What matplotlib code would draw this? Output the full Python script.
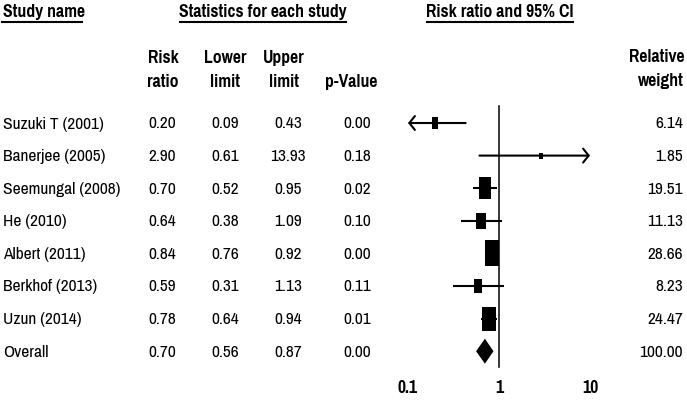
import matplotlib
matplotlib.use("Agg")
import matplotlib.pyplot as plt
import numpy as np
from matplotlib.path import Path
from matplotlib.markers import MarkerStyle

studies = ["Suzuki T (2001)", "Banerjee (2005)", "Seemungal (2008)", "He (2010)",
           "Albert (2011)", "Berkhof (2013)", "Uzun (2014)"]
rr = [0.20, 2.90, 0.70, 0.64, 0.84, 0.59, 0.78]
lower = [0.09, 0.61, 0.52, 0.38, 0.76, 0.31, 0.64]
upper = [0.43, 13.93, 0.95, 1.09, 0.92, 1.13, 0.94]
pval = [0.00, 0.18, 0.02, 0.10, 0.00, 0.11, 0.01]
weight = [6.14, 1.85, 19.51, 11.13, 28.66, 8.23, 24.47]
overall_name = "Overall"
overall_rr, overall_lo, overall_hi, overall_p, overall_w = 0.70, 0.56, 0.87, 0.00, 100.00
ticks = [0.1, 1, 10]

FONT = ["Pragati Narrow", "Archivo Narrow", "Roboto Condensed", "Liberation Sans", "DejaVu Sans"]
W, H = 687, 402
fig = plt.figure(figsize=(W / 100, H / 100), dpi=100)
ax = fig.add_axes([0, 0, 1, 1])
ax.set_xlim(0, W)
ax.set_ylim(H, 0)
ax.axis("off")

x0, x1 = 408, 590
ax2 = fig.add_axes([x0 / W, 0, (x1 - x0) / W, 1])
ax2.set_xscale("log")
ax2.set_xlim(ticks[0], ticks[-1])
ax2.set_ylim(H, 0)
ax2.axis("off")

row0, dy = 124, 32.6
rows = [row0 + i * dy for i in range(len(studies) + 1)]

hdr = dict(fontsize=13.8, fontweight="bold", family=FONT, va="center")
txt = dict(fontsize=13.6, family=FONT, va="center")

# headers
ax.text(3, 12, "Study name", ha="left", **hdr)
ax.plot([2, 82], [23, 23], color="black", lw=1.5)
ax.text(263, 12, "Statistics for each study", ha="center", **hdr)
ax.plot([180, 346], [23, 23], color="black", lw=1.5)
ax.text(500, 12, "Risk ratio and 95% CI", ha="center", **hdr)
ax.plot([427, 573], [23, 23], color="black", lw=1.5)

cols = [163, 225, 284, 351]
ax.text(cols[0], 58, "Risk", ha="center", **hdr)
ax.text(cols[0], 82, "ratio", ha="center", **hdr)
ax.text(cols[1], 58, "Lower", ha="center", **hdr)
ax.text(cols[1], 82, "limit", ha="center", **hdr)
ax.text(cols[2], 58, "Upper", ha="center", **hdr)
ax.text(cols[2], 82, "limit", ha="center", **hdr)
ax.text(cols[3], 82, "p-Value", ha="center", **hdr)
ax.text(684, 57, "Relative", ha="right", **hdr)
ax.text(684, 81, "weight", ha="right", **hdr)

dcols = [162, 225, 288, 357]
all_names = studies + [overall_name]
all_rr = rr + [overall_rr]
all_lo = lower + [overall_lo]
all_hi = upper + [overall_hi]
all_p = pval + [overall_p]
all_w = weight + [overall_w]
for i, y in enumerate(rows):
    ax.text(3, y, all_names[i], ha="left", **txt)
    for c, v in zip(dcols, [all_rr[i], all_lo[i], all_hi[i], all_p[i]]):
        ax.text(c, y, f"{v:.2f}", ha="center", **txt)
    ax.text(683, y, f"{all_w[i]:.2f}", ha="right", **txt)

# forest
ax2.plot([1, 1], [107, 368], color="black", lw=1.1)
lo_lim, hi_lim = ticks[0], ticks[-1]
for i in range(len(studies)):
    y = rows[i]
    lo = max(lower[i], lo_lim)
    hi = min(upper[i], hi_lim)
    if lower[i] < lo_lim or upper[i] > hi_lim:
        tip = lo if lower[i] < lo_lim else hi
        tail = hi if lower[i] < lo_lim else lo
        ax2.annotate("", xy=(tip, y), xytext=(tail, y),
                     arrowprops=dict(arrowstyle="->,head_length=0.4,head_width=0.5",
                                     lw=1.5, color="black", shrinkA=0, shrinkB=0))
    else:
        ax2.plot([lo, hi], [y, y], color="black", lw=1.5, solid_capstyle="butt")
    wpx = 2.8 * np.sqrt(weight[i])
    hpx = 1.75 * wpx
    verts = [(-wpx / 2, -hpx / 2), (wpx / 2, -hpx / 2), (wpx / 2, hpx / 2),
             (-wpx / 2, hpx / 2), (-wpx / 2, -hpx / 2)]
    m = MarkerStyle(Path(verts, closed=True))
    ax2.scatter([rr[i]], [y], marker=m, s=(hpx * 0.72) ** 2, color="black",
                linewidths=0, zorder=3)

yo = rows[-1]
hh = 12.5
ax2.fill([overall_lo, overall_rr, overall_hi, overall_rr],
         [yo, yo - hh, yo, yo + hh], color="black", lw=0, zorder=3)

for t in ticks:
    ax2.text(t, 388, f"{t:g}", ha="center", va="center", fontsize=13.8,
             fontweight="bold", family=FONT)

fig.savefig("out.png", dpi=100)
